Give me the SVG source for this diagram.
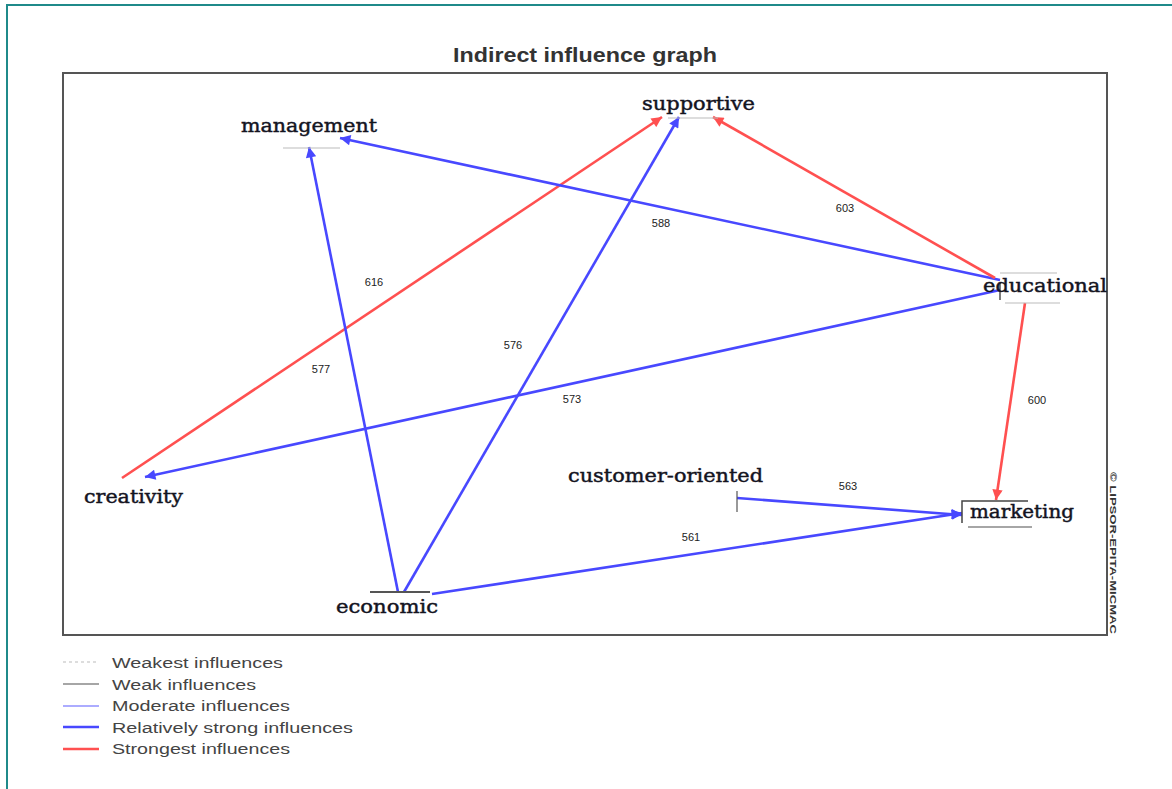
<svg xmlns="http://www.w3.org/2000/svg" width="1172" height="789" viewBox="0 0 1172 789">
<style>
.node{font-family:"DejaVu Serif","Liberation Serif",serif;font-size:19px;fill:#14141f;stroke:#14141f;stroke-width:0.45}
.lbl{font-family:"Liberation Sans",Arial,sans-serif;font-size:11px;fill:#222;text-anchor:middle}
.leg{font-family:"Liberation Sans",Arial,sans-serif;font-size:14px;fill:#444}
.tick{stroke:#bbb;stroke-width:1.2;fill:none}
.blue{stroke:#4848ff;stroke-width:2.6;fill:none;marker-end:url(#ab)}
.red{stroke:#ff5050;stroke-width:2.6;fill:none;marker-end:url(#ar)}
</style>
<defs>
<marker id="ab" viewBox="0 0 10 10" refX="10" refY="5" markerWidth="4.5" markerHeight="4" orient="auto" markerUnits="strokeWidth"><path d="M0,0L10,5L0,10z" fill="#4848ff"/></marker>
<marker id="ar" viewBox="0 0 10 10" refX="10" refY="5" markerWidth="4.5" markerHeight="4" orient="auto" markerUnits="strokeWidth"><path d="M0,0L10,5L0,10z" fill="#ff5050"/></marker>
</defs>
<rect width="1172" height="789" fill="#fff"/>
<path d="M7,789V5H1172" stroke="#1f8a8a" stroke-width="2" fill="none"/>
<text x="585" y="62" font-family="Liberation Sans,Arial,sans-serif" font-weight="bold" font-size="20" fill="#333" text-anchor="middle" textLength="264" lengthAdjust="spacingAndGlyphs">Indirect influence graph</text>
<rect x="63" y="73" width="1044" height="562" fill="none" stroke="#555" stroke-width="2"/>
<text transform="translate(1110,472) rotate(90)" font-family="Liberation Sans,Arial,sans-serif" font-weight="bold" font-size="9" fill="#333" textLength="162" lengthAdjust="spacingAndGlyphs">© LIPSOR-EPITA-MICMAC</text>
<g id="connectors">
<path class="red" d="M122,478L662,117"/>
<path class="blue" d="M1000,280L340,138"/>
<path class="red" d="M995,278L713,117"/>
<path class="blue" d="M398,592L309,147"/>
<path class="blue" d="M404,592L679,117"/>
<path class="blue" d="M1000,290L145,477"/>
<path class="red" d="M1025,303L996,500"/>
<path class="blue" d="M737,498L962,515"/>
<path class="blue" d="M432,594L962,513"/>
<text class="lbl" x="374" y="286">616</text>
<text class="lbl" x="661" y="227">588</text>
<text class="lbl" x="845" y="212">603</text>
<text class="lbl" x="321" y="373">577</text>
<text class="lbl" x="513" y="349">576</text>
<text class="lbl" x="572" y="403">573</text>
<text class="lbl" x="1037" y="404">600</text>
<text class="lbl" x="848" y="490">563</text>
<text class="lbl" x="691" y="541">561</text>
</g>
<g id="management">
<path class="tick" d="M283,148H340"/>
<text class="node" x="241" y="132" textLength="136" lengthAdjust="spacingAndGlyphs">management</text>
</g>
<g id="supportive">
<path class="tick" d="M668,118H718"/>
<text class="node" x="642" y="110" textLength="113" lengthAdjust="spacingAndGlyphs">supportive</text>
</g>
<g id="educational">
<path class="tick" d="M1000,273H1057M1005,303H1060"/>
<path d="M1000,283V300" stroke="#222" stroke-width="1.2"/>
<text class="node" x="983" y="292" textLength="124" lengthAdjust="spacingAndGlyphs">educational</text>
</g>
<g id="marketing">
<path d="M962,523V501H1028" stroke="#444" stroke-width="1.5" fill="none"/>
<path d="M968,527H1032" stroke="#888" stroke-width="1.5"/>
<text class="node" x="970" y="518" textLength="104" lengthAdjust="spacingAndGlyphs">marketing</text>
</g>
<g id="economic">
<path d="M370,592H430" stroke="#555" stroke-width="2.2"/>
<text class="node" x="336" y="613" textLength="102" lengthAdjust="spacingAndGlyphs">economic</text>
</g>
<g id="creativity">
<text class="node" x="84" y="503" textLength="99" lengthAdjust="spacingAndGlyphs">creativity</text>
</g>
<g id="customer-oriented">
<path d="M737,491V512" stroke="#555" stroke-width="1.2"/>
<text class="node" x="568" y="482" textLength="195" lengthAdjust="spacingAndGlyphs">customer-oriented</text>
</g>
<g id="legend">
<path d="M63,662H99" stroke="#bbb" stroke-width="1" stroke-dasharray="3,3"/>
<path d="M63,684H99" stroke="#888" stroke-width="1.5"/>
<path d="M63,706H99" stroke="#9090ff" stroke-width="1.5"/>
<path d="M63,727H99" stroke="#4848ff" stroke-width="2.5"/>
<path d="M63,749H99" stroke="#ff5050" stroke-width="2.5"/>
<text class="leg" x="112" y="668" textLength="171" lengthAdjust="spacingAndGlyphs">Weakest influences</text>
<text class="leg" x="112" y="690" textLength="144" lengthAdjust="spacingAndGlyphs">Weak influences</text>
<text class="leg" x="112" y="711" textLength="178" lengthAdjust="spacingAndGlyphs">Moderate influences</text>
<text class="leg" x="112" y="733" textLength="241" lengthAdjust="spacingAndGlyphs">Relatively strong influences</text>
<text class="leg" x="112" y="754" textLength="178" lengthAdjust="spacingAndGlyphs">Strongest influences</text>
</g>
</svg>
